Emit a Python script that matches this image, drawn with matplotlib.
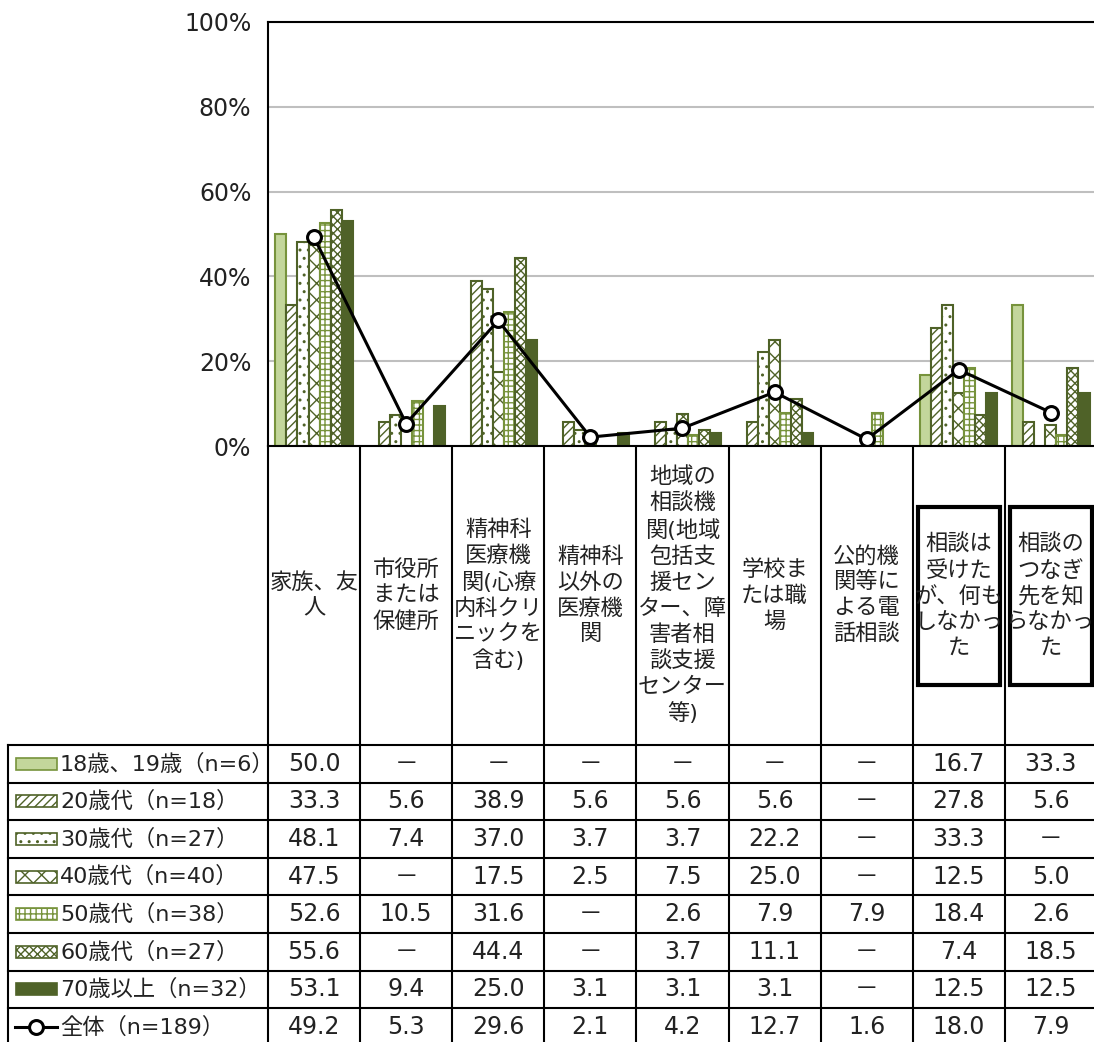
import matplotlib
matplotlib.use('Agg')
import matplotlib.pyplot as plt
import numpy as np
from matplotlib.patches import Rectangle
from matplotlib.lines import Line2D

plt.rcParams['font.family'] = ['DejaVu Sans', 'Noto Sans CJK JP']
plt.rcParams['hatch.linewidth'] = 1.0

# --- data ---
categories = [
    '家族、友\n人',
    '市役所\nまたは\n保健所',
    '精神科\n医療機\n関(心療\n内科クリ\nニックを\n含む)',
    '精神科\n以外の\n医療機\n関',
    '地域の\n相談機\n関(地域\n包括支\n援セン\nター、障\n害者相\n談支援\nセンター\n等)',
    '学校ま\nたは職\n場',
    '公的機\n関等に\nよる電\n話相談',
    '相談は\n受けた\nが、何も\nしなかっ\nた',
    '相談の\nつなぎ\n先を知\nらなかっ\nた',
]
boxed = [False, False, False, False, False, False, False, True, True]

series_labels = [
    '18歳、19歳（n=6）',
    '20歳代（n=18）',
    '30歳代（n=27）',
    '40歳代（n=40）',
    '50歳代（n=38）',
    '60歳代（n=27）',
    '70歳以上（n=32）',
]
age_18_19 = [50.0, None, None, None, None, None, None, 16.7, 33.3]
age_20s = [33.3, 5.6, 38.9, 5.6, 5.6, 5.6, None, 27.8, 5.6]
age_30s = [48.1, 7.4, 37.0, 3.7, 3.7, 22.2, None, 33.3, None]
age_40s = [47.5, None, 17.5, 2.5, 7.5, 25.0, None, 12.5, 5.0]
age_50s = [52.6, 10.5, 31.6, None, 2.6, 7.9, 7.9, 18.4, 2.6]
age_60s = [55.6, None, 44.4, None, 3.7, 11.1, None, 7.4, 18.5]
age_70s = [53.1, 9.4, 25.0, 3.1, 3.1, 3.1, None, 12.5, 12.5]
series_values = [age_18_19, age_20s, age_30s, age_40s, age_50s, age_60s, age_70s]

total_label = '全体（n=189）'
total = [49.2, 5.3, 29.6, 2.1, 4.2, 12.7, 1.6, 18.0, 7.9]

yticks = [0, 20, 40, 60, 80, 100]

# --- styles ---
DARK = '#4f6228'
MID = '#77933c'
styles = [
    dict(facecolor='#c3d69b', edgecolor=MID, hatch=None),
    dict(facecolor='white', edgecolor=DARK, hatch='////'),
    dict(facecolor='white', edgecolor=DARK, hatch='..'),
    dict(facecolor='white', edgecolor=DARK, hatch='xx'),
    dict(facecolor='white', edgecolor=MID, hatch='+++'),
    dict(facecolor='white', edgecolor=DARK, hatch='xxxx'),
    dict(facecolor=DARK, edgecolor=DARK, hatch=None),
]

W, H = 1094, 1042
FS_NUM = 17     # tick labels and table numbers
FS_CAT = 16     # category labels
FS_LEG = 16     # legend labels in the table
TXT = '#222222'
x0 = 268          # left edge of chart / table category area
colw = 92.1       # width of one category column
y_top, y_base = 22, 446
y_rows = 745      # top of the data table
row_h = 37.6

fig = plt.figure(figsize=(W / 100, H / 100), dpi=100)
ncat = len(categories)
ax = fig.add_axes([x0 / W, 1 - y_base / H, ncat * colw / W, (y_base - y_top) / H])

bw = 0.12
idx = np.arange(ncat)
for j, (vals, st) in enumerate(zip(series_values, styles)):
    heights = np.array([v if v is not None else 0 for v in vals])
    mask = np.array([v is not None for v in vals])
    xs = idx + 0.5 + (j - 3) * bw
    ax.bar(xs[mask], heights[mask], width=bw, linewidth=1.5, zorder=2, **st)

ax.plot(idx + 0.5, total, color='black', linewidth=2.2, marker='o', markersize=10,
        markerfacecolor='white', markeredgecolor='black', markeredgewidth=2.2, zorder=4)

ax.set_xlim(0, ncat)
ax.set_ylim(0, 100)
ax.set_yticks(yticks)
ax.set_yticklabels([f'{t}%' for t in yticks], fontsize=FS_NUM, color=TXT)
ax.set_xticks([])
ax.tick_params(axis='y', length=0, pad=12)
ax.grid(axis='y', color='#bfbfbf', linewidth=1.5, zorder=0)
for s in ax.spines.values():
    s.set_color('black')
    s.set_linewidth(1.5)

# --- table in pixel coordinates ---
tab = fig.add_axes([0, 0, 1, 1], zorder=-1)
tab.set_xlim(0, W)
tab.set_ylim(H, 0)
tab.axis('off')

lc = dict(color='black', linewidth=1.5)
col_edges = [x0 + i * colw for i in range(ncat + 1)]
nrows = len(series_labels) + 1
y_end = y_rows + nrows * row_h

# vertical lines
for xe in col_edges:
    tab.plot([xe, xe], [y_base, y_end], **lc)
tab.plot([8, 8], [y_rows, y_end], **lc)
# horizontal lines
for r in range(nrows + 1):
    yy = y_rows + r * row_h
    tab.plot([8, col_edges[-1]], [yy, yy], **lc)

# category labels
y_mid = (y_base + y_rows) / 2
for i, (cat, bx) in enumerate(zip(categories, boxed)):
    cx = x0 + (i + 0.5) * colw
    tab.text(cx, y_mid, cat, ha='center', va='center', fontsize=FS_CAT,
             linespacing=1.32, color=TXT)
    if bx:
        tab.add_patch(Rectangle((col_edges[i] + 5, 507), colw - 10, 178,
                                fill=False, edgecolor='black', linewidth=3))


def fmt(v):
    return '－' if v is None else f'{v:.1f}'


# data rows
for r, (lab, vals, st) in enumerate(zip(series_labels, series_values, styles)):
    yc = y_rows + (r + 0.5) * row_h
    tab.add_patch(Rectangle((16, yc - 6), 41, 12, linewidth=1.2, **st))
    tab.text(60, yc, lab, ha='left', va='center', fontsize=FS_LEG, color=TXT)
    for i, v in enumerate(vals):
        tab.text(x0 + (i + 0.5) * colw, yc, fmt(v), ha='center', va='center',
                 fontsize=FS_NUM, color=TXT)

yc = y_rows + (nrows - 0.5) * row_h
tab.add_line(Line2D([15, 57], [yc, yc], color='black', linewidth=2.2))
tab.plot([36], [yc], marker='o', markersize=10, markerfacecolor='white',
         markeredgecolor='black', markeredgewidth=2.2)
tab.text(60, yc, total_label, ha='left', va='center', fontsize=FS_LEG, color=TXT)
for i, v in enumerate(total):
    tab.text(x0 + (i + 0.5) * colw, yc, fmt(v), ha='center', va='center',
             fontsize=FS_NUM, color=TXT)

fig.savefig('out.png', dpi=100)
